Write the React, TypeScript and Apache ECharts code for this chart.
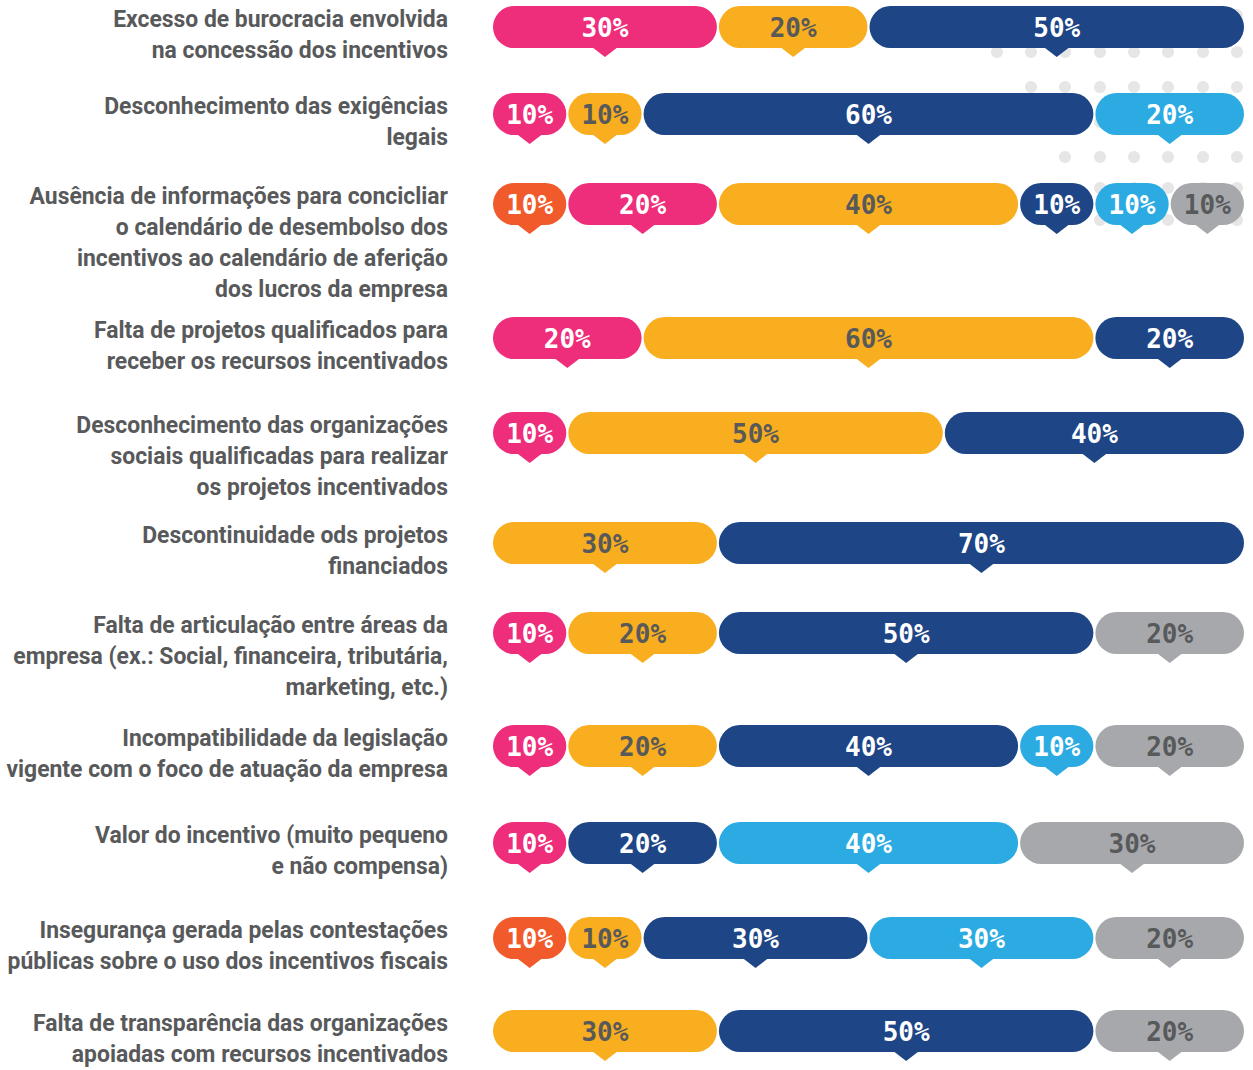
import React, { useEffect, useRef } from "react";
import * as echarts from "echarts";

const categories = [
  "Excesso de burocracia envolvida\nna concessão dos incentivos",
  "Desconhecimento das exigências\nlegais",
  "Ausência de informações para concicliar\no calendário de desembolso dos\nincentivos ao calendário de aferição\ndos lucros da empresa",
  "Falta de projetos qualificados para\nreceber os recursos incentivados",
  "Desconhecimento das organizações\nsociais qualificadas para realizar\nos projetos incentivados",
  "Descontinuidade ods projetos\nfinanciados",
  "Falta de articulação entre áreas da\nempresa (ex.: Social, financeira, tributária,\nmarketing, etc.)",
  "Incompatibilidade da legislação\nvigente com o foco de atuação da empresa",
  "Valor do incentivo (muito pequeno\ne não compensa)",
  "Insegurança gerada pelas contestações\npúblicas sobre o uso dos incentivos fiscais",
  "Falta de transparência das organizações\napoiadas com recursos incentivados",
];

const seriesOrange = [0, 0, 10, 0, 0, 0, 0, 0, 0, 10, 0];
const seriesPink = [30, 10, 20, 20, 10, 0, 10, 10, 10, 0, 0];
const seriesYellow = [20, 10, 40, 60, 50, 30, 20, 20, 0, 10, 30];
const seriesNavy = [50, 60, 10, 20, 40, 70, 50, 40, 20, 30, 50];
const seriesCyan = [0, 20, 10, 0, 0, 0, 0, 10, 40, 30, 0];
const seriesGrey = [0, 0, 10, 0, 0, 0, 20, 20, 30, 20, 20];

const allSeries = [seriesOrange, seriesPink, seriesYellow, seriesNavy, seriesCyan, seriesGrey];
const colors = ["#F15A2B", "#EE2D7B", "#F9AE1F", "#1E4586", "#2BABE2", "#A7A8AB"];
const textColors = ["#FFFFFF", "#FFFFFF", "#58595B", "#FFFFFF", "#FFFFFF", "#58595B"];

// layout
const rowTops = [6, 93, 183, 317, 412, 522, 612, 725, 822, 917, 1010];
const BAR_H = 42;
const GRID_LEFT = 492;
const GRID_RIGHT = 8;
const LABEL_FAMILY = "Roboto, 'DejaVu Sans', sans-serif";
const LABEL_SIZE = 23;
const LABEL_WEIGHT = "bold";
const NUM_FONT = "'DejaVu Sans Mono', monospace";
// reference pixel width of the first line of the first label, used to condense the label font
const REF_LINE_WIDTH = 335;

const dotRows = [
  { y: 15, from: 0 },
  { y: 52, from: 1 },
  { y: 87, from: 2 },
  { y: 122, from: 3 },
  { y: 157, from: 3 },
  { y: 188, from: 4 },
  { y: 220, from: 4 },
];
const dotCols = [962, 997, 1031, 1065, 1100, 1134, 1168, 1203, 1237];

function measure(text: string): number {
  const c = document.createElement("canvas");
  const ctx = c.getContext("2d");
  if (!ctx) return REF_LINE_WIDTH;
  ctx.font = `${LABEL_WEIGHT} ${LABEL_SIZE}px ${LABEL_FAMILY}`;
  return ctx.measureText(text).width;
}

export default function App() {
  const ref = useRef<HTMLDivElement>(null);

  useEffect(() => {
    document.body.style.margin = "0";
    if (!ref.current) return;
    const chart = echarts.init(ref.current, undefined, { renderer: "svg" });

    const w0 = measure(categories[0].split("\n")[0]);
    const labelScale = Math.min(1, REF_LINE_WIDTH / w0);

    const grids = rowTops.map((t) => ({ left: GRID_LEFT, right: GRID_RIGHT, top: t, height: BAR_H }));
    const xAxes = rowTops.map((_, i) => ({ gridIndex: i, type: "value", min: 0, max: 100, show: false }));
    const yAxes = rowTops.map((_, i) => ({ gridIndex: i, type: "category", data: [categories[i]], show: false }));

    const series = categories.map((cat, row) => {
      const data: number[][] = [];
      let acc = 0;
      allSeries.forEach((s, ci) => {
        const v = s[row];
        if (v > 0) {
          data.push([acc, 0, acc + v, v, ci]);
          acc += v;
        }
      });
      return {
        type: "custom",
        xAxisIndex: row,
        yAxisIndex: row,
        clip: false,
        encode: { x: [0, 2], y: 1 },
        data,
        renderItem: (params: any, api: any) => {
          const start = api.value(0);
          const end = api.value(2);
          const val = api.value(3);
          const ci = api.value(4);
          const p0 = api.coord([start, 0]);
          const p1 = api.coord([end, 0]);
          const h = BAR_H;
          const top = p0[1] - h / 2;
          const x0 = p0[0] + 1;
          const w = p1[0] - p0[0] - 2;
          const cx = (p0[0] + p1[0]) / 2;
          const color = colors[ci];
          const children: any[] = [
            {
              type: "rect",
              shape: { x: x0, y: top, width: w, height: h, r: h / 2 },
              style: { fill: color },
            },
            {
              type: "polygon",
              shape: {
                points: [
                  [cx - 13, top + h - 1],
                  [cx + 13, top + h - 1],
                  [cx, top + h + 9],
                ],
              },
              style: { fill: color },
            },
            {
              type: "text",
              style: {
                text: val + "%",
                x: cx,
                y: p0[1] + 1,
                align: "center",
                verticalAlign: "middle",
                fill: textColors[ci],
                fontFamily: NUM_FONT,
                fontWeight: "bold",
                fontSize: 26,
              },
            },
          ];
          if (params.dataIndex === 0) {
            const zero = api.coord([0, 0]);
            children.push({
              type: "text",
              x: zero[0] - 44,
              y: top - 2,
              scaleX: labelScale,
              style: {
                text: cat,
                x: 0,
                y: 0,
                align: "right",
                verticalAlign: "top",
                lineHeight: 31,
                fill: "#58595B",
                fontFamily: LABEL_FAMILY,
                fontWeight: LABEL_WEIGHT,
                fontSize: LABEL_SIZE,
              },
            });
          }
          return { type: "group", children };
        },
      };
    });

    const dots: any[] = [];
    dotRows.forEach((r) => {
      dotCols.forEach((x, k) => {
        if (k >= r.from) {
          dots.push({ type: "circle", shape: { cx: x, cy: r.y, r: 6 }, style: { fill: "#E6E6E7" }, z: 0 });
        }
      });
    });

    chart.setOption({
      animation: false,
      backgroundColor: "#FFFFFF",
      grid: grids,
      xAxis: xAxes,
      yAxis: yAxes,
      graphic: dots,
      series,
    });

    return () => chart.dispose();
  }, []);

  return <div ref={ref} style={{ width: 1253, height: 1070 }} />;
}
